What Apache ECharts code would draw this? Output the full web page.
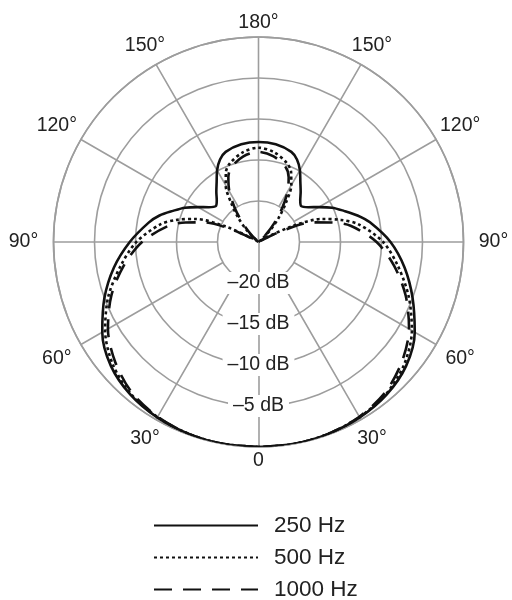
<!DOCTYPE html>
<html>
<head>
<meta charset="utf-8">
<script src="https://cdn.jsdelivr.net/npm/echarts@6/dist/echarts.min.js"></script>
<style>
  html, body { margin: 0; padding: 0; background: #fff; }
  #chart { width: 512px; height: 600px; }
</style>
</head>
<body>
<div id="chart"></div>
<script>
// Angles measured from the front (0 at bottom), degrees
const angles = [0,10,20,30,40,50,60,70,80,90,100,105,110,115,120,125,130,135,140,145,150,155,160,170,180,
                190,200,205,210,215,220,225,230,235,240,245,250,255,260,270,280,290,300,310,320,330,340,350,360];

// Level in dB for each angle
const hz250 = [0,0,-0.1,-0.3,-0.7,-1.5,-3.0,-5.0,-7.1,-9.3,-11.4,-12.5,-13.9,-15.1,-16.5,-17.6,-18.2,-17.8,-17.0,-16.1,-14.9,-13.9,-13.3,-12.9,-12.8,
               -12.9,-13.3,-13.9,-14.9,-16.1,-17.0,-17.8,-18.2,-17.6,-16.5,-15.1,-13.9,-12.5,-11.2,-8.9,-6.9,-5.0,-3.0,-1.5,-0.7,-0.3,-0.1,0,0];
const hz500 = [0,0,-0.1,-0.35,-0.8,-1.8,-3.4,-5.5,-7.9,-10.1,-12.8,-14.6,-16.8,-20.3,-24.0,-25,-24.5,-23.0,-21.2,-19.2,-17.0,-15.6,-14.8,-13.9,-13.5,
               -13.9,-14.8,-15.6,-17.0,-19.2,-21.2,-23.0,-24.5,-25,-24.0,-20.3,-16.8,-14.6,-12.6,-9.8,-7.7,-5.5,-3.4,-1.8,-0.8,-0.35,-0.1,0,0];
const hz1000 = [0,0,-0.1,-0.4,-1.0,-2.2,-3.8,-5.9,-8.3,-10.8,-13.8,-15.8,-18.0,-21.5,-24.5,-25,-25,-23.8,-22.0,-20.0,-17.9,-16.3,-15.3,-14.4,-14.0,
                -14.4,-15.3,-16.3,-17.9,-20.0,-22.0,-23.8,-25,-25,-24.5,-21.5,-18.0,-15.8,-13.6,-10.6,-8.2,-5.9,-3.8,-2.2,-1.0,-0.4,-0.1,0,0];

const seriesNames = ['250 Hz', '500 Hz', '1000 Hz'];

// Axis tick labels
const angleTickValues = [0,30,60,90,120,150,180,210,240,270,300,330];
const angleTickLabels = ['0','30°','60°','90°','120°','150°','180°','150°','120°','90°','60°','30°'];
const dbTickValues = [-20, -15, -10, -5];
const dbTickLabels = ['\u201320 dB', '\u201315 dB', '\u201310 dB', '\u20135 dB'];

// Radial grid spokes (angle, inner dB)
const spokeAngles = [30,60,90,120,150,180,210,240,270,300,330];
const spokeInner  = [-20,-20,-20,-20,-20,-25,-20,-20,-20,-20,-20];

const DB_MIN = -25, DB_MAX = 0;
const RADIUS = 205;
const GRID = '#9d9d9d';
const TEXT = '#222222';
const FONT = 'Liberation Sans, Arial, Helvetica, sans-serif';

const spokeData = [];
spokeAngles.forEach((a, i) => {
  spokeData.push([spokeInner[i], a]);
  spokeData.push([0, a]);
  spokeData.push(null);
});

// Angle labels placed just outside the outer ring (label centre radius grows
// towards the sides because the text is wider than tall)
const pxPerDb = RADIUS / (DB_MAX - DB_MIN);
const angleLabelData = angleTickValues.map((a, i) => {
  const rPx = RADIUS + 14 + 16 * Math.abs(Math.sin(a * Math.PI / 180));
  return { value: [DB_MIN + rPx / pxPerDb, a], label: { formatter: angleTickLabels[i] } };
});

function pattern(name, vals, type, z) {
  return {
    name: name,
    type: 'line',
    coordinateSystem: 'polar',
    symbol: 'none',
    smooth: 0.3,
    silent: true,
    z: z,
    lineStyle: { color: '#111', width: 2.6, type: type, cap: 'butt' },
    itemStyle: { color: '#111' },
    data: angles.map((a, i) => [vals[i], a])
  };
}

const chart = echarts.init(document.getElementById('chart'), null, { renderer: 'canvas' });
chart.setOption({
  animation: false,
  backgroundColor: '#fff',
  polar: { center: [258.5, 242], radius: RADIUS },
  angleAxis: {
    type: 'value',
    min: 0, max: 360, interval: 30,
    startAngle: 270,
    clockwise: true,
    axisLine: { show: true, lineStyle: { color: GRID, width: 1.6 } },
    axisTick: { show: false },
    splitLine: { show: false },
    axisLabel: { show: false }
  },
  radiusAxis: {
    type: 'value',
    min: DB_MIN, max: DB_MAX, interval: 5,
    z: 2,
    axisLine: { show: true, lineStyle: { color: GRID, width: 1.6 } },
    axisTick: { show: false },
    splitLine: { show: true, lineStyle: { color: GRID, width: 1.6 } },
    axisLabel: {
      margin: 0,
      align: 'center',
      verticalAlign: 'middle',
      formatter: function (v) {
        const i = dbTickValues.indexOf(Math.round(v));
        return i >= 0 ? '{b|' + dbTickLabels[i] + '}' : '';
      },
      rich: {
        b: { color: TEXT, fontSize: 19.5, fontFamily: FONT, backgroundColor: '#fff', padding: [1, 5, 1, 5] }
      }
    }
  },
  legend: {
    data: seriesNames,
    orient: 'vertical',
    left: 153, top: 514,
    padding: 0,
    height: 90,
    itemWidth: 104, itemHeight: 22.5, itemGap: 9,
    itemStyle: { color: 'rgba(0,0,0,0)', borderColor: 'rgba(0,0,0,0)', borderWidth: 0, opacity: 0 },
    textStyle: { color: TEXT, fontSize: 22.5, fontFamily: FONT, padding: [0, 0, 0, 11] },
    selectedMode: false
  },
  series: [
    {
      name: 'spokes',
      type: 'line',
      coordinateSystem: 'polar',
      symbol: 'none',
      silent: true,
      z: 1,
      connectNulls: false,
      lineStyle: { color: GRID, width: 1.6 },
      data: spokeData
    },
    {
      name: 'angleLabels',
      type: 'scatter',
      coordinateSystem: 'polar',
      clip: false,
      silent: true,
      symbolSize: 1,
      itemStyle: { color: 'rgba(255,255,255,0)', opacity: 1 },
      label: {
        show: true, position: 'inside', align: 'center', verticalAlign: 'middle',
        color: TEXT, opacity: 1, fontSize: 19.5, fontFamily: FONT,
        textBorderWidth: 0
      },
      data: angleLabelData
    },
    pattern(seriesNames[0], hz250, 'solid', 5),
    pattern(seriesNames[1], hz500, [3, 3], 4),
    pattern(seriesNames[2], hz1000, [18, 11], 3)
  ]
});
</script>
</body>
</html>
